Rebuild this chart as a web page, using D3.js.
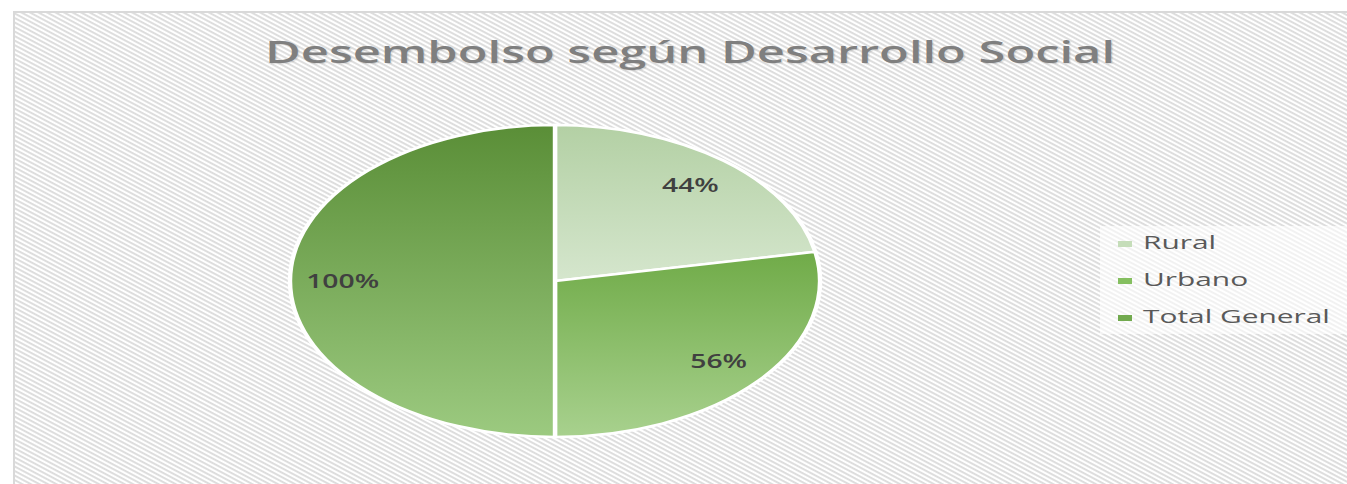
<html>
<head>
    <meta charset="utf-8">
    <title>Desembolso según Desarrollo Social</title>
    <style>
        body { margin: 0; background: #ffffff; }
        text { font-family: "Open Sans", sans-serif; }
    </style>
</head>
<body>
    <svg width="1347" height="484"></svg>

    <script src="https://cdnjs.cloudflare.com/ajax/libs/d3/7.8.5/d3.min.js"></script>
    <script>
        const categories = ["Rural", "Urbano", "Total General"];
        const values = [44, 56, 100];
        const labels = ["44%", "56%", "100%"];
        const topColors = ["#b3d0a4", "#70ab48", "#5a8e37"];
        const bottomColors = ["#d5e6cd", "#a8d18e", "#9cca80"];
        const legendColors = ["#c5ddb9", "#85bf60", "#72aa4f"];
        const title = "Desembolso según Desarrollo Social";

        const svg = d3.select("svg");
        const defs = svg.append("defs");

        // striped chart area background
        const pat = defs.append("pattern")
            .attr("id", "stripes")
            .attr("width", 8).attr("height", 4)
            .attr("patternUnits", "userSpaceOnUse")
            .attr("patternTransform", "rotate(28)");
        pat.append("rect").attr("width", 8).attr("height", 4).attr("fill", "#ffffff");
        pat.append("rect").attr("width", 8).attr("height", 1.9).attr("fill", "#dcdcdc");

        svg.append("rect")
            .attr("x", 14).attr("y", 12)
            .attr("width", 1347).attr("height", 484)
            .attr("fill", "url(#stripes)")
            .attr("stroke", "#d9d9d9")
            .attr("stroke-width", 2);

        // title
        svg.append("text")
            .attr("x", 265).attr("y", 63)
            .attr("font-size", 31)
            .attr("font-weight", 600)
            .attr("fill", "#7f7f7f")
            .attr("textLength", 850)
            .attr("lengthAdjust", "spacingAndGlyphs")
            .style("text-shadow", "1px 1px 1px rgba(0,0,0,0.12)")
            .text(title);

        // gradients, one per slice
        categories.forEach((c, i) => {
            const g = defs.append("linearGradient")
                .attr("id", "grad" + i)
                .attr("x1", 0).attr("y1", 0).attr("x2", 0).attr("y2", 1);
            g.append("stop").attr("offset", "0%").attr("stop-color", topColors[i]);
            g.append("stop").attr("offset", "100%").attr("stop-color", bottomColors[i]);
        });

        const cx = 555, cy = 281, ry = 156, rx = 265;
        const sx = rx / ry;

        const pie = d3.pie().sort(null).value(d => d);
        const arcs = pie(values);
        const arc = d3.arc().innerRadius(0).outerRadius(ry);
        const labelArc = d3.arc().innerRadius(125).outerRadius(125);

        const pieG = svg.append("g")
            .attr("transform", "translate(" + cx + "," + cy + ") scale(" + sx + ",1)");

        pieG.selectAll("path")
            .data(arcs)
            .enter()
            .append("path")
            .attr("d", arc)
            .attr("fill", (d, i) => "url(#grad" + i + ")")
            .attr("stroke", "#ffffff")
            .attr("stroke-width", 2.6);

        // data labels, stretched like the rest of the picture
        const lab = svg.selectAll(".lab")
            .data(arcs)
            .enter()
            .append("text")
            .attr("class", "lab")
            .attr("font-size", 19)
            .attr("font-weight", 600)
            .attr("fill", "#404040")
            .attr("text-anchor", "middle")
            .text((d, i) => labels[i]);
        const refW = lab.filter((d, i) => i === 2).node().getComputedTextLength();
        const ls = 73 / refW;
        lab.attr("transform", d => {
            const c = labelArc.centroid(d);
            return "translate(" + (cx + c[0] * sx) + "," + (cy + c[1] + 7) + ") scale(" + ls + ",1)";
        });

        // legend
        svg.append("rect")
            .attr("x", 1100).attr("y", 226)
            .attr("width", 247).attr("height", 108)
            .attr("fill", "rgba(255,255,255,0.6)");

        const leg = svg.selectAll(".leg")
            .data(categories)
            .enter()
            .append("g")
            .attr("class", "leg")
            .attr("transform", (d, i) => "translate(1118," + (249 + i * 37) + ")");
        leg.append("rect")
            .attr("x", 0).attr("y", -8)
            .attr("width", 14).attr("height", 6)
            .attr("fill", (d, i) => legendColors[i]);
        const legText = leg.append("text")
            .attr("font-size", 18)
            .attr("font-weight", 500)
            .attr("fill", "#595959")
            .text(d => d);
        const tw = legText.filter((d, i) => i === 2).node().getComputedTextLength();
        const ts = 187 / tw;
        legText.attr("transform", "translate(25,0) scale(" + ts + ",1)");
    </script>
</body>
</html>
